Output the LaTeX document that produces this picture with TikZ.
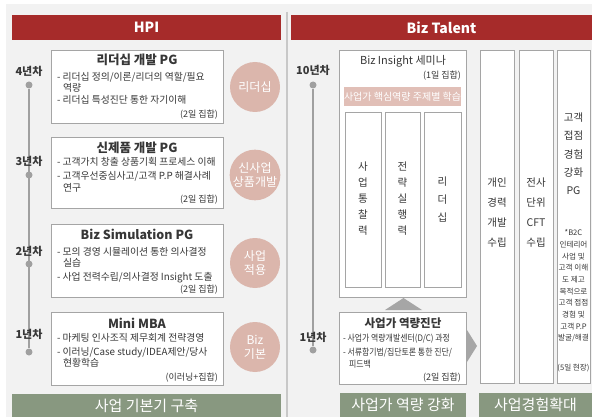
\documentclass[tikz,border=0pt]{standalone}
\usepackage{fontspec}
\setmainfont{Noto Sans CJK KR}
\newfontfamily\krnarrow[FakeStretch=0.88]{Noto Sans CJK KR}
\definecolor{bgc}{RGB}{242,242,242}
\definecolor{hred}{RGB}{166,43,42}
\definecolor{gbar}{RGB}{136,152,128}
\definecolor{pinkc}{RGB}{219,182,172}
\definecolor{pbar}{RGB}{225,191,183}
\definecolor{bord}{RGB}{165,165,165}
\definecolor{txt}{RGB}{55,55,55}
\definecolor{dotc}{RGB}{160,160,160}
\definecolor{divc}{RGB}{200,200,200}
\definecolor{arrc}{RGB}{166,166,166}
\begin{document}
\begin{tikzpicture}[x=1pt,y=-1pt,
  tx/.style={inner sep=0,outer sep=0,text height=0.75em,text depth=0.15em,text=txt},
  body/.style={tx,anchor=west,font=\fontsize{9.8}{11}\selectfont},
  sbody/.style={tx,anchor=west,font=\krnarrow\fontsize{9}{10}\selectfont},
  note/.style={tx,anchor=east,font=\fontsize{9}{10}\selectfont},
  ttl/.style={tx,font=\bfseries\fontsize{12.5}{14}\selectfont},
  yr/.style={tx,font=\bfseries\fontsize{11}{13}\selectfont},
  boxn/.style={draw=bord,fill=white,line width=0.8pt,inner sep=0,outer sep=0,anchor=north west},
  hdr/.style={fill=hred,inner sep=0,outer sep=0,anchor=north west,text=white,font=\bfseries\fontsize{14}{16}\selectfont},
  gb/.style={fill=gbar,inner sep=0,outer sep=0,anchor=north west,text=white,font=\fontsize{15}{17}\selectfont},
  circ/.style={circle,fill=pinkc,minimum size=50pt,inner sep=0,text=white,align=center,font=\fontsize{12}{14}\selectfont},
  dotn/.style={circle,fill=dotc,minimum size=7pt,inner sep=0},
  vt/.style={inner sep=0,align=center,text=txt,font=\fontsize{10.5}{16}\selectfont},
]
\useasboundingbox (0,0) rectangle (592,417);
\fill[white] (0,0) rectangle (592,417);
\fill[bgc] (6,4) rectangle (592,417);
\draw[divc,line width=2pt] (287,12) -- (287,417);

% headers
\node[hdr,minimum width=269pt,minimum height=25pt] (hpi) at (12,15) {HPI};
\node[hdr,minimum width=301pt,minimum height=25pt] (biz) at (291,15) {Biz Talent};

% HPI timeline
\node[dotn] (d4) at (29,85) {};
\node[dotn] (d3) at (29,175) {};
\node[dotn] (d2) at (29,264) {};
\node[dotn] (d1) at (29,352) {};
\draw[dotc,line width=1.2pt] (d4) -- (d1);
\node[yr] (y4) at (29,73) {4년차};
\node[yr] (y3) at (29,163) {3년차};
\node[yr] (y2) at (29,252) {2년차};
\node[yr] (y1) at (29,335) {1년차};

% HPI boxes
\node[boxn,minimum width=172pt,minimum height=73pt] (b1) at (51,50) {};
\node[ttl] (b1t) at (137,62) {리더십 개발 PG};
\node[body] (b1a) at (57,78) {- 리더십 정의/이론/리더의 역할/필요};
\node[body] (b1b) at (63,89) {역량};
\node[body] (b1c) at (57,101) {- 리더십 특성진단 통한 자기이해};
\node[note] (b1n) at (218,115) {(2일 집합)};

\node[boxn,minimum width=172pt,minimum height=71pt] (b2) at (51,137) {};
\node[ttl] (b2t) at (137,150) {신제품 개발 PG};
\node[body] (b2a) at (57,163) {- 고객가치 창출 상품기획 프로세스 이해};
\node[body] (b2b) at (57,176) {- 고객우선중심사고/고객 P.P 해결사례};
\node[body] (b2c) at (63,188) {연구};
\node[note] (b2n) at (218,200) {(2일 집합)};

\node[boxn,minimum width=172pt,minimum height=73pt] (b3) at (51,224) {};
\node[ttl] (b3t) at (137,237) {Biz Simulation PG};
\node[body] (b3a) at (57,252) {- 모의 경영 시뮬레이션 통한 의사결정};
\node[body] (b3b) at (63,263) {실습};
\node[body] (b3c) at (57,277) {- 사업 전력수립/의사결정 Insight 도출};
\node[note] (b3n) at (218,289) {(2일 집합)};

\node[boxn,minimum width=172pt,minimum height=73pt] (b4) at (51,312) {};
\node[ttl] (b4t) at (137,325) {Mini MBA};
\node[body] (b4a) at (57,338) {- 마케팅 인사조직 제무회계 전략경영};
\node[body] (b4b) at (57,352) {- 이러닝/Case study/IDEA제안/당사};
\node[body] (b4c) at (63,363) {현황학습};
\node[note] (b4n) at (218,377) {(이러닝+집합)};

% circles
\node[circ] (c1) at (255,87) {리더십};
\node[circ] (c2) at (255,175) {신사업\\상품개발};
\node[circ] (c3) at (255,263) {사업\\적용};
\node[circ] (c4) at (255,347) {Biz\\기본};

\node[gb,minimum width=269pt,minimum height=23pt] (g1) at (12,394) {사업 기본기 구축};

% Biz Talent timeline
\node[dotn] (e10) at (313,85) {};
\node[dotn] (e1) at (313,350) {};
\draw[dotc,line width=1.2pt] (e10) -- (e1);
\node[yr] (z10) at (313,72) {10년차};
\node[yr] (z1) at (313,338) {1년차};

% Biz Insight box
\node[boxn,minimum width=127pt,minimum height=247pt] (bi) at (339,50) {};
\node[tx,font=\fontsize{11}{13}\selectfont] (bit) at (403,62) {Biz Insight 세미나};
\node[note] (bin) at (461,76) {(1일 집합)};
\node[fill=pbar,inner sep=0,outer sep=0,anchor=north west,minimum width=116pt,minimum height=19pt,text=white,font=\fontsize{10}{12}\selectfont] (pb) at (344,87) {사업가 핵심역량 주제별 학습};
\node[boxn,minimum width=36pt,minimum height=175pt] (k1) at (345,112) {};
\node[boxn,minimum width=35pt,minimum height=175pt] (k2) at (385,112) {};
\node[boxn,minimum width=37pt,minimum height=175pt] (k3) at (424,112) {};
\node[vt] (k1t) at (k1.center |- 0,199) {사\\업\\통\\찰\\력};
\node[vt] (k2t) at (k2.center |- 0,199) {전\\략\\실\\행\\력};
\node[vt,font=\fontsize{10.5}{18}\selectfont] (k3t) at (k3.center |- 0,200) {리\\더\\십};

% up arrow
\fill[arrc] (385,310) -- (422,310) -- (403.5,298) -- cycle;

% 사업가 역량진단
\node[boxn,minimum width=127pt,minimum height=72pt] (bd) at (339,312) {};
\node[tx,font=\bfseries\fontsize{11.5}{13}\selectfont] (bdt) at (403,324) {사업가 역량진단};
\node[sbody] (bda) at (343,338) {- 사업가 역량개발센터(D/C) 과정};
\node[sbody] (bdb) at (343,352) {- 서류함기법/집단토론 통한 진단/};
\node[sbody] (bdc) at (349,364) {피드백};
\node[note] (bdn) at (461,377) {(2일 집합)};

% right arrow
\fill[arrc] (467,330) -- (477,346) -- (467,362) -- cycle;

\node[gb,minimum width=126pt,minimum height=24pt] (g2) at (340,393) {사업가 역량 강화};

% right columns
\node[boxn,minimum width=34pt,minimum height=333pt] (r1) at (480,50) {};
\node[boxn,minimum width=34pt,minimum height=333pt] (r2) at (519,50) {};
\node[boxn,minimum width=33pt,minimum height=333pt] (r3) at (557,50) {};
\node[vt,font=\fontsize{10.5}{20}\selectfont] (r1t) at (r1.center |- 0,213) {개인\\경력\\개발\\수립};
\node[vt,font=\fontsize{10.5}{20}\selectfont] (r2t) at (r2.center |- 0,213) {전사\\단위\\CFT\\수립};
\node[vt,font=\fontsize{10.5}{18.3}\selectfont] (r3t) at (r3.center |- 0,154) {고객\\접점\\경험\\강화\\PG};
\node[vt,font=\fontsize{7.6}{11.7}\selectfont] (r3s) at (r3.center |- 0,286) {*B2C\\인테리어\\사업 및\\고객 이해\\도 제고\\목적으로\\고객 접점\\경험 및\\고객 P.P\\발굴/해결};
\node[vt,font=\fontsize{7.6}{9}\selectfont] (r3n) at (r3.center |- 0,368) {(5일 현장)};

\node[gb,minimum width=113pt,minimum height=24pt] (g3) at (479,393) {사업경험확대};
\end{tikzpicture}
\end{document}
